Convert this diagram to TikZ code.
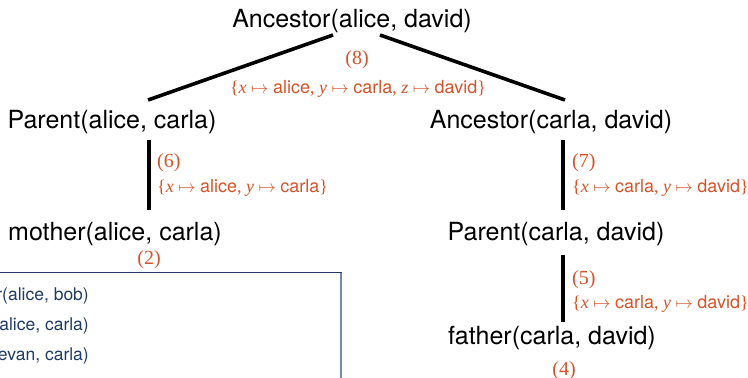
\documentclass[tikz,border=0pt]{standalone}
\usepackage{fontspec}
\setmainfont{Liberation Serif}
\setsansfont{TeX Gyre Heros}
\usetikzlibrary{positioning,calc}
\definecolor{rulered}{HTML}{D4542A}
\definecolor{factblue}{HTML}{1F3B63}
\definecolor{shadeblue}{HTML}{7189A8}
\tikzset{
    atom/.style={font=\sffamily\fontsize{25}{28}\selectfont,inner sep=0pt,anchor=base},
    rulenum/.style={font=\fontsize{20}{22}\selectfont,text=rulered,inner sep=0pt,anchor=base},
    subst/.style={font=\fontsize{18}{20}\selectfont,text=rulered,inner sep=0pt,anchor=base west},
    fact/.style={font=\sffamily\fontsize{17.5}{19}\selectfont,text=factblue,inner sep=0pt,anchor=base east},
    link/.style={line width=3.6pt},
}

\begin{document}
\begin{tikzpicture}[x=1pt,y=-1pt]
\useasboundingbox (0,0) rectangle (748,378);
\clip (0,0) rectangle (748,378);
% proof tree
\node[atom](anc1) at (352,27) {Ancestor(alice, david)};
\node[atom](par1) at (112,128) {Parent(alice, carla)};
\node[atom](anc2) at (551,128) {Ancestor(carla, david)};
\node[atom](mot) at (115,240) {mother(alice, carla)};
\node[atom](par2) at (556,240) {Parent(carla, david)};
\node[atom](fat) at (552,344) {father(carla, david)};
\draw[link] ($(anc1.base)+(-19,8)$) -- ($(par1.base)+(36,-28)$);
\draw[link] ($(anc1.base)+(28,8)$) -- ($(anc2.base)+(14,-28)$);
\draw[link] ($(par1.base)+(37,12)$) -- ($(mot.base)+(34,-30)$);
\draw[link] ($(anc2.base)+(12,12)$) -- ($(par2.base)+(7,-30)$);
\draw[link] ($(par2.base)+(7,15)$) -- ($(fat.base)+(11,-22)$);
% rule labels
\node[rulenum](r8) at (357,64) {(8)};
\node[subst,anchor=base](s8) at (358,93) {\{\textit{x} $\mapsto$ \textsf{alice}, \textit{y} $\mapsto$ \textsf{carla}, \textit{z} $\mapsto$ \textsf{david}\}};
\node[rulenum,anchor=base west](r6) at (157,167) {(6)};
\node[subst](s6) at (157,192) {\{\textit{x} $\mapsto$ \textsf{alice}, \textit{y} $\mapsto$ \textsf{carla}\}};
\node[rulenum,anchor=base west](r7) at (572,167) {(7)};
\node[subst](s7) at (572,192) {\{\textit{x} $\mapsto$ \textsf{carla}, \textit{y} $\mapsto$ \textsf{david}\}};
\node[rulenum,anchor=base west](r5) at (572,284) {(5)};
\node[subst](s5) at (572,308) {\{\textit{x} $\mapsto$ \textsf{carla}, \textit{y} $\mapsto$ \textsf{david}\}};
\node[rulenum](r2) at (149,264) {(2)};
\node[rulenum](r4) at (564,375) {(4)};
% fact box
\draw[factblue,line width=0.9pt] (-5,272) rectangle (341,390);
\draw[shadeblue,line width=2pt] (341,273) -- (341,390);
\node[fact](f1) at (89,300) {r(alice, bob)};
\node[fact](f2) at (89,330) {alice, carla)};
\node[fact](f3) at (89,360) {evan, carla)};
\end{tikzpicture}
\end{document}
